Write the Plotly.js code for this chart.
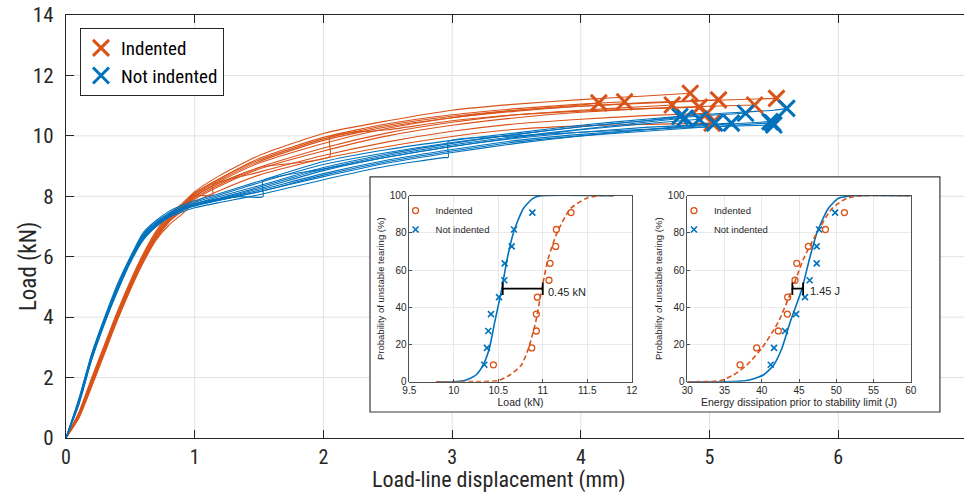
<!DOCTYPE html>
<html><head><meta charset="utf-8">
<script src="https://cdn.plot.ly/plotly-3.0.1.min.js"></script>
<style>html,body{margin:0;padding:0;background:#fff}#chart{width:964px;height:492px}</style>
</head><body><div id="chart"></div>
<script>
// ---------- main chart data ----------
const seriesNames = ['Indented', 'Not indented'];
const seriesColors = ['#D95319', '#0072BD'];
const mainXTitle = 'Load-line displacement (mm)';
const mainYTitle = 'Load (kN)';
const mainXTicks = [0, 1, 2, 3, 4, 5, 6];
const mainYTicks = [0, 2, 4, 6, 8, 10, 12, 14];
const dispGrid = [0, 0.1, 0.2, 0.3, 0.4, 0.5, 0.6, 0.7, 0.8, 0.9, 1.0, 1.2, 1.5, 2.0, 2.5, 3.0, 3.5, 4.0, 4.5, 5.0, 5.5];
function gridTo(last, end) { return dispGrid.filter(v => v <= last + 1e-9).concat([end]); }

// Indented specimens: load-line displacement (mm) and load (kN)
const indentedDisp = [
  gridTo(4.0, 4.14),
  gridTo(4.0, 4.34),
  gridTo(4.5, 4.71),
  gridTo(4.5, 4.85),
  [0, 0.1, 0.2, 0.3, 0.4, 0.5, 0.6, 0.7, 0.8, 0.9, 0.98, 1.14, 1.14, 1.5, 2.0, 2.5, 3.0, 3.5, 4.0, 4.5, 4.98],
  gridTo(4.5, 5.02),
  gridTo(4.5, 5.07),
  gridTo(5.0, 5.35),
  gridTo(5.0, 5.52),
  [0, 0.1, 0.2, 0.3, 0.4, 0.5, 0.6, 0.7, 0.8, 0.9, 1.0, 1.2, 1.5, 2.05, 2.05, 2.5, 3.0, 3.5, 4.0, 4.5, 4.92]
];
const indentedLoad = [
  [0, 0.7, 1.8, 2.9, 4.0, 5.0, 5.9, 6.65, 7.2, 7.6, 8.0, 8.5, 9.1, 9.75, 10.25, 10.6, 10.85, 11.02, 11.09],
  [0, 0.8, 1.95, 3.05, 4.15, 5.15, 6.05, 6.8, 7.35, 7.7, 8.1, 8.6, 9.25, 9.95, 10.4, 10.7, 10.9, 11.05, 11.13],
  [0, 0.75, 1.85, 2.95, 4.05, 5.0, 5.9, 6.65, 7.2, 7.55, 7.95, 8.4, 8.95, 9.6, 10.1, 10.45, 10.7, 10.85, 10.97, 11.02],
  [0, 0.85, 2.0, 3.1, 4.2, 5.2, 6.1, 6.85, 7.4, 7.75, 8.15, 8.7, 9.35, 10.08, 10.5, 10.85, 11.05, 11.2, 11.32, 11.41],
  [0, 0.7, 1.8, 2.9, 4.0, 5.0, 5.9, 6.6, 7.15, 7.6, 8.02, 8.04, 8.37, 8.8, 9.35, 9.8, 10.15, 10.4, 10.55, 10.67, 10.75],
  [0, 0.65, 1.7, 2.8, 3.9, 4.9, 5.8, 6.55, 7.05, 7.4, 7.8, 8.2, 8.7, 9.25, 9.65, 9.98, 10.22, 10.33, 10.38, 10.42],
  [0, 0.75, 1.85, 2.95, 4.05, 5.05, 5.95, 6.7, 7.25, 7.65, 8.05, 8.55, 9.15, 9.85, 10.3, 10.6, 10.82, 10.98, 11.1, 11.19],
  [0, 0.7, 1.75, 2.85, 3.95, 4.95, 5.85, 6.6, 7.15, 7.5, 7.9, 8.35, 8.9, 9.5, 10.0, 10.35, 10.6, 10.78, 10.9, 10.98, 11.02],
  [0, 0.8, 1.9, 3.0, 4.1, 5.1, 6.0, 6.75, 7.3, 7.7, 8.1, 8.6, 9.2, 9.9, 10.35, 10.65, 10.85, 10.98, 11.08, 11.17, 11.24],
  [0, 0.8, 1.9, 3.0, 4.1, 5.1, 6.0, 6.75, 7.25, 7.6, 8.0, 8.45, 8.95, 9.32, 9.97, 10.2, 10.5, 10.7, 10.82, 10.9, 10.95]
];

// Not indented specimens
const notIndentedDisp = [
  gridTo(4.5, 4.77),
  gridTo(4.5, 4.81),
  gridTo(4.5, 5.04),
  [0, 0.1, 0.2, 0.3, 0.4, 0.5, 0.6, 0.7, 0.8, 0.9, 1.0, 1.2, 1.35, 1.53, 1.53, 2.0, 2.5, 3.0, 3.5, 4.0, 4.5, 5.0, 5.17],
  gridTo(5.0, 5.28),
  gridTo(5.0, 5.47),
  gridTo(5.0, 5.49),
  gridTo(5.5, 5.60),
  gridTo(4.5, 4.92),
  [0, 0.1, 0.2, 0.3, 0.4, 0.5, 0.6, 0.7, 0.8, 0.9, 1.0, 1.2, 1.5, 2.0, 2.5, 2.93, 2.97, 2.97, 3.5, 4.0, 4.5, 5.0, 5.5]
];
const notIndentedLoad = [
  [0, 1.2, 2.7, 3.9, 5.0, 5.95, 6.7, 7.1, 7.4, 7.6, 7.75, 8.0, 8.35, 8.95, 9.4, 9.75, 10.05, 10.3, 10.5, 10.64],
  [0, 1.2, 2.65, 3.85, 4.95, 5.9, 6.65, 7.1, 7.4, 7.6, 7.75, 7.95, 8.3, 8.9, 9.35, 9.7, 9.98, 10.22, 10.45, 10.59],
  [0, 1.2, 2.7, 3.9, 4.95, 5.9, 6.6, 7.05, 7.38, 7.58, 7.7, 7.88, 8.15, 8.65, 9.1, 9.45, 9.75, 10.0, 10.2, 10.42],
  [0, 1.25, 2.75, 3.95, 5.0, 5.95, 6.7, 7.1, 7.4, 7.6, 7.75, 7.92, 7.99, 7.99, 8.5, 8.9, 9.3, 9.65, 9.92, 10.12, 10.28, 10.38, 10.42],
  [0, 1.25, 2.75, 3.95, 5.0, 5.95, 6.75, 7.15, 7.45, 7.65, 7.8, 8.05, 8.45, 9.05, 9.45, 9.78, 10.05, 10.3, 10.5, 10.68, 10.75],
  [0, 1.1, 2.6, 3.8, 4.85, 5.8, 6.55, 7.0, 7.32, 7.53, 7.7, 7.9, 8.2, 8.75, 9.2, 9.55, 9.85, 10.05, 10.2, 10.35, 10.47],
  [0, 1.15, 2.65, 3.85, 4.9, 5.85, 6.6, 7.02, 7.33, 7.55, 7.68, 7.88, 8.15, 8.7, 9.15, 9.5, 9.8, 10.0, 10.15, 10.3, 10.43],
  [0, 1.3, 2.8, 4.0, 5.1, 6.0, 6.8, 7.2, 7.5, 7.7, 7.85, 8.1, 8.5, 9.15, 9.55, 9.85, 10.1, 10.35, 10.55, 10.72, 10.85, 10.91],
  [0, 1.15, 2.6, 3.8, 4.9, 5.85, 6.6, 7.05, 7.35, 7.55, 7.7, 7.92, 8.25, 8.85, 9.3, 9.65, 9.95, 10.2, 10.4, 10.55],
  [0, 1.2, 2.7, 3.9, 4.95, 5.9, 6.6, 7.0, 7.3, 7.48, 7.62, 7.8, 8.05, 8.55, 9.0, 9.28, 9.29, 9.81, 10.0, 10.12, 10.22, 10.3, 10.36]
];

// ---------- inset data ----------
const probLevels = [9.09, 18.18, 27.27, 36.36, 45.45, 54.55, 63.64, 72.73, 81.82, 90.91];
const loadIndented = [10.445, 10.876, 10.928, 10.928, 10.939, 11.07, 11.082, 11.145, 11.153, 11.318];
const loadNotIndented = [10.343, 10.373, 10.388, 10.418, 10.508, 10.568, 10.572, 10.651, 10.677, 10.883];
const energyIndented = [37.08, 39.31, 42.22, 43.43, 43.48, 44.46, 44.69, 46.26, 48.54, 51.09];
const energyNotIndented = [41.2, 41.64, 43.12, 44.6, 45.8, 46.43, 47.37, 47.37, 47.69, 49.84];

const fitProb = [0, 0.1, 0.6, 3.6, 9, 18, 32, 50, 66, 80, 93, 98.6, 100, 100];
const loadFitIndX = [9.8, 10.3, 10.5, 10.63, 10.76, 10.84, 10.92, 10.99, 11.06, 11.16, 11.31, 11.49, 11.62, 11.8];
const loadFitNotX = [9.8, 10.02, 10.12, 10.25, 10.33, 10.4, 10.46, 10.54, 10.6, 10.67, 10.78, 10.89, 10.98, 11.8];
const energyFitIndX = [30, 33, 34.5, 36.2, 38, 40, 42.2, 44.1, 45.6, 47.4, 49.4, 51.4, 53.6, 60];
const energyFitNotX = [30, 36, 38, 40.2, 41.6, 42.7, 43.8, 45.4, 46.4, 47.4, 48.9, 50.3, 52.3, 60];

const loadGapX = [10.55, 11.0];
const energyGapX = [44.1, 45.55];
const gapY = [50, 50];
const loadGapLabel = '0.45 kN';
const energyGapLabel = '1.45 J';

const loadTicks = [9.5, 10, 10.5, 11, 11.5, 12];
const energyTicks = [30, 35, 40, 45, 50, 55, 60];
const probTicks = [0, 20, 40, 60, 80, 100];

// ---------- build traces ----------
const FONT = 'Liberation Sans, Arial, Helvetica, sans-serif';
const NARROW = 'Liberation Sans Narrow, Arial Narrow, Roboto Condensed, Liberation Sans, sans-serif';
const DARK = '#262626';
const traces = [];
[[indentedDisp, indentedLoad, 0], [notIndentedDisp, notIndentedLoad, 1]].forEach(([D, L, k]) => {
  D.forEach((d, i) => {
    traces.push({x: d, y: L[i], mode: 'lines', type: 'scatter', showlegend: false,
      line: {color: seriesColors[k], width: 1.1, shape: 'spline', smoothing: 0.6}, hoverinfo: 'skip'});
  });
});
[[indentedDisp, indentedLoad, 0], [notIndentedDisp, notIndentedLoad, 1]].forEach(([D, L, k]) => {
  traces.push({x: D.map(a => a[a.length - 1]), y: L.map(a => a[a.length - 1]),
    mode: 'markers', type: 'scatter', name: seriesNames[k], legend: 'legend',
    marker: {symbol: 'x-thin-open', size: 16, color: seriesColors[k], line: {color: seriesColors[k], width: 3}}});
});

// insets
function insetTraces(xa, ya, lg, fitIndX, fitNotX, ptsInd, ptsNot, gapX) {
  traces.push({x: fitNotX, y: fitProb, xaxis: xa, yaxis: ya, mode: 'lines', showlegend: false,
    line: {color: seriesColors[1], width: 1.6, shape: 'spline', smoothing: 0.6}});
  traces.push({x: fitIndX, y: fitProb, xaxis: xa, yaxis: ya, mode: 'lines', showlegend: false,
    line: {color: seriesColors[0], width: 1.6, dash: '5px,3px', shape: 'spline', smoothing: 0.6}});
  traces.push({x: ptsInd, y: probLevels, xaxis: xa, yaxis: ya, mode: 'markers', name: seriesNames[0], legend: lg,
    marker: {symbol: 'circle-open', size: 6, color: seriesColors[0], line: {width: 1.3, color: seriesColors[0]}}});
  traces.push({x: ptsNot, y: probLevels, xaxis: xa, yaxis: ya, mode: 'markers', name: seriesNames[1], legend: lg,
    marker: {symbol: 'x-thin-open', size: 6, color: seriesColors[1], line: {width: 1.6, color: seriesColors[1]}}});
  traces.push({x: gapX, y: gapY, xaxis: xa, yaxis: ya, mode: 'lines+markers', showlegend: false,
    line: {color: '#000', width: 1.8}, marker: {symbol: 'line-ns-open', size: 9, line: {color: '#000', width: 1.8}}});
}
insetTraces('x2', 'y2', 'legend2', loadFitIndX, loadFitNotX, loadIndented, loadNotIndented, loadGapX);
insetTraces('x3', 'y3', 'legend3', energyFitIndX, energyFitNotX, energyIndented, energyNotIndented, energyGapX);

// ---------- layout ----------
const shapes = [];
mainXTicks.filter(v => v > 0).forEach(v => shapes.push({type: 'line', xref: 'x', yref: 'y', x0: v, x1: v, y0: 0, y1: 14,
  line: {color: '#e1e1e1', width: 1}, layer: 'below'}));
mainYTicks.filter(v => v > 0 && v < 14).forEach(v => shapes.push({type: 'line', xref: 'x', yref: 'y', x0: 0, x1: 6.977, y0: v, y1: v,
  line: {color: '#e1e1e1', width: 1}, layer: 'below'}));
// inset frame (white box)
shapes.push({type: 'rect', xref: 'x', yref: 'y', x0: 2.362, x1: 6.79, y0: 0.86, y1: 8.64,
  fillcolor: '#ffffff', line: {color: '#3a3a3a', width: 1.2}, layer: 'below'});

function insetAxis(extra) {
  return Object.assign({ticks: 'inside', ticklen: 3, tickwidth: 0.8, tickcolor: DARK, showline: true, mirror: true,
    linecolor: DARK, linewidth: 0.8, showgrid: true, gridcolor: '#e4e4e4', gridwidth: 0.8, zeroline: false,
    tickfont: {family: FONT, size: 10, color: DARK}, tickmode: 'array'}, extra);
}

const layout = {
  width: 964, height: 492,
  margin: {l: 66, r: 0, t: 15, b: 54, pad: 0},
  paper_bgcolor: '#ffffff', plot_bgcolor: '#ffffff',
  font: {family: FONT, color: DARK},
  showlegend: true,
  xaxis: {domain: [0, 1], range: [0, 6.977], anchor: 'y', tickmode: 'array', tickvals: mainXTicks,
    ticks: 'inside', ticklen: 8, tickwidth: 1, tickcolor: DARK, showline: true, linecolor: DARK, linewidth: 1.2,
    mirror: 'ticks', showgrid: false, zeroline: false, ticklabelstandoff: 1,
    tickfont: {family: NARROW, size: 20, color: DARK}},
  yaxis: {domain: [0, 1], range: [0, 14], anchor: 'x', tickmode: 'array', tickvals: mainYTicks,
    ticks: 'inside', ticklen: 8, tickwidth: 1, tickcolor: DARK, showline: true, linecolor: DARK, linewidth: 1.2,
    mirror: false, showgrid: false, zeroline: false, ticklabelstandoff: 7,
    tickfont: {family: NARROW, size: 21, color: DARK}},
  xaxis2: insetAxis({domain: [0.3823, 0.6300], anchor: 'y2', range: [9.5, 12], tickvals: loadTicks,
    title: {text: 'Load (kN)', font: {family: FONT, size: 10.5, color: DARK}, standoff: 2}}),
  yaxis2: insetAxis({domain: [0.1331, 0.5728], anchor: 'x2', range: [0, 100], tickvals: probTicks,
    title: {text: 'Probability of unstable tearing (%)', font: {family: FONT, size: 9.5, color: DARK}, standoff: 3}}),
  xaxis3: insetAxis({domain: [0.6919, 0.9407], anchor: 'y3', range: [30, 60], tickvals: energyTicks,
    title: {text: 'Energy dissipation prior to stability limit (J)', font: {family: FONT, size: 10.5, color: DARK}, standoff: 2}}),
  yaxis3: insetAxis({domain: [0.1331, 0.5728], anchor: 'x3', range: [0, 100], tickvals: probTicks,
    title: {text: 'Probability of unstable tearing (%)', font: {family: FONT, size: 9.5, color: DARK}, standoff: 3}}),
  legend: {x: 0.0156, y: 0.9693, xanchor: 'left', yanchor: 'top', bgcolor: '#ffffff', bordercolor: DARK, borderwidth: 1,
    font: {family: NARROW, size: 19, color: '#000'}, traceorder: 'normal', tracegroupgap: 0},
  legend2: {x: 0.367, y: 0.572, xanchor: 'left', yanchor: 'top', bgcolor: 'rgba(0,0,0,0)', borderwidth: 0,
    font: {family: FONT, size: 9.5, color: DARK}, traceorder: 'normal', tracegroupgap: 0},
  legend3: {x: 0.677, y: 0.572, xanchor: 'left', yanchor: 'top', bgcolor: 'rgba(0,0,0,0)', borderwidth: 0,
    font: {family: FONT, size: 9.5, color: DARK}, traceorder: 'normal', tracegroupgap: 0},
  shapes: shapes,
  annotations: [
    {xref: 'paper', yref: 'paper', x: 0.482, y: -0.099, text: mainXTitle, showarrow: false, xanchor: 'center', yanchor: 'middle',
      font: {family: NARROW, size: 22, color: DARK}},
    {xref: 'paper', yref: 'paper', x: -0.0423, y: 0.404, text: mainYTitle, showarrow: false, textangle: -90,
      xanchor: 'center', yanchor: 'middle', font: {family: NARROW, size: 23, color: DARK}},
    {xref: 'x2', yref: 'y2', x: loadGapX[1] + 0.04, y: gapY[0] - 2, text: loadGapLabel, showarrow: false, xanchor: 'left', yanchor: 'middle',
      font: {family: FONT, size: 11, color: DARK}},
    {xref: 'x3', yref: 'y3', x: energyGapX[1] + 0.6, y: gapY[0] - 1, text: energyGapLabel, showarrow: false, xanchor: 'left', yanchor: 'middle',
      font: {family: FONT, size: 11, color: DARK}}
  ]
};

Plotly.newPlot('chart', traces, layout, {staticPlot: true, displayModeBar: false});
</script></body></html>
